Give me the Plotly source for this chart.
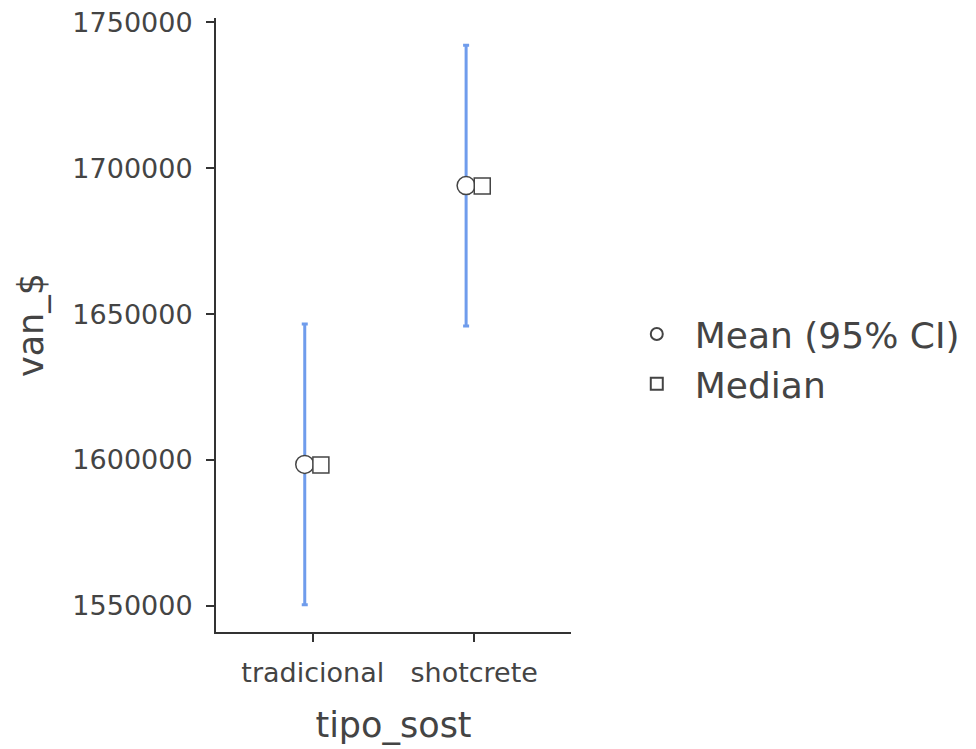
import numpy as np
import plotly.graph_objects as go

# Groups and summary statistics of van_$ by tipo_sost
categories = ["tradicional", "shotcrete"]
mean_vals = [1598500, 1694000]
ci_lower = [1550400, 1645900]
ci_upper = [1646600, 1742100]
median_vals = [1598300, 1693900]

y_ticks = [1550000, 1600000, 1650000, 1700000, 1750000]

idx = np.arange(len(categories))
shift = 0.05  # mean and median sit side by side around each category

mean_arr = np.array(mean_vals)
err_plus = np.array(ci_upper) - mean_arr
err_minus = mean_arr - np.array(ci_lower)

text_color = "#444444"
line_color = "#333333"
font_family = "DejaVu Sans, Arial, sans-serif"

fig = go.Figure()

fig.add_trace(go.Scatter(
    x=idx - shift,
    y=mean_vals,
    mode="markers",
    name="Mean (95% CI)",
    marker=dict(symbol="circle", size=18, color="white",
                line=dict(color="#444444", width=1.5)),
    error_y=dict(type="data", symmetric=False, array=err_plus,
                 arrayminus=err_minus, color="#6f9cec", thickness=3, width=3),
))

fig.add_trace(go.Scatter(
    x=idx + shift,
    y=median_vals,
    mode="markers",
    name="Median",
    marker=dict(symbol="square", size=16, color="white",
                line=dict(color="#444444", width=1.5)),
))

fig.update_layout(
    width=976,
    height=749,
    margin=dict(l=216, r=405, t=18, b=117),
    paper_bgcolor="white",
    plot_bgcolor="white",
    font=dict(family=font_family, color=text_color),
    showlegend=True,
    legend=dict(
        xref="container", yref="container",
        x=0.634, xanchor="left",
        y=0.594, yanchor="top",
        font=dict(size=36, color=text_color),
        bgcolor="rgba(0,0,0,0)",
        itemsizing="constant",
        itemwidth=66,
        tracegroupgap=0,
    ),
    xaxis=dict(
        range=[-0.6, 1.6],
        tickmode="array",
        tickvals=idx,
        ticktext=categories,
        showgrid=False,
        zeroline=False,
        showline=True,
        linecolor=line_color,
        linewidth=2,
        ticks="outside",
        ticklen=8,
        tickwidth=2,
        tickcolor=line_color,
        tickfont=dict(size=27, color=text_color),
        ticklabelstandoff=8,
        automargin=False,
        title=dict(text="tipo_sost", font=dict(size=35, color=text_color), standoff=25),
    ),
    yaxis=dict(
        range=[1541100, 1751400],
        tickmode="array",
        tickvals=y_ticks,
        ticktext=[str(v) for v in y_ticks],
        showgrid=False,
        zeroline=False,
        showline=True,
        linecolor=line_color,
        linewidth=2,
        ticks="outside",
        ticklen=8,
        tickwidth=2,
        tickcolor=line_color,
        tickfont=dict(size=27, color=text_color),
        ticklabelstandoff=8,
        automargin=False,
        title=dict(text="van_$", font=dict(size=35, color=text_color), standoff=18),
    ),
)

fig.write_html("out.html")
